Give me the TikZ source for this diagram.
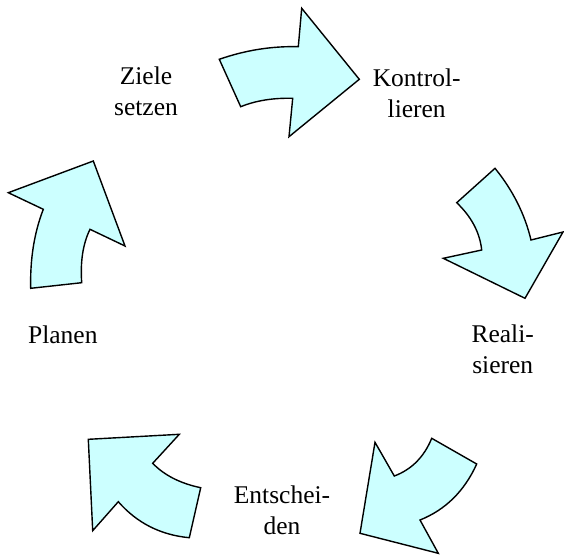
\documentclass[tikz,border=0pt]{standalone}
\usepackage{fontspec}
\setmainfont{Liberation Serif}
\begin{document}
\begin{tikzpicture}[x=1pt,y=-1pt,
  cyclearrow/.style={draw=black,line width=1.4pt,fill=arrowfill,line join=miter},
  steplabel/.style={anchor=base,align=center,inner sep=0pt,
    font=\fontsize{25.5}{31}\selectfont}]
\definecolor{arrowfill}{HTML}{CCFFFF}
\useasboundingbox (0,0) rectangle (564,554);

% top arrow: Ziele setzen -> Kontrollieren
\draw[cyclearrow] (219.3,59.3) .. controls (245.4,50.2) and (271.8,46.0) .. (298.3,46.7)
  -- (301.7,8.3) -- (359.3,79.3) -- (289,136.7) -- (292.7,98.3)
  .. controls (273.1,97.8) and (255.8,100.6) .. (240.7,106.7) -- cycle;

% right arrow: Kontrollieren -> Realisieren
\draw[cyclearrow] (456.7,202.7) -- (495,168.3)
  .. controls (512.8,190.2) and (524.8,214.1) .. (531,240)
  -- (563,232) -- (525,298.3) -- (443.3,258.3) -- (481.7,250)
  .. controls (479.8,232.5) and (471.4,216.7) .. (456.7,202.7) -- cycle;

% lower right arrow: Realisieren -> Entscheiden
\draw[cyclearrow] (431.7,438.3) -- (476.7,464)
  .. controls (464.4,491.1) and (445.5,509.8) .. (420,520)
  -- (438.3,553.3) -- (360,533.3) -- (375,442.3) -- (394.3,476)
  .. controls (411.6,469.5) and (424.1,456.9) .. (431.7,438.3) -- cycle;

% lower left arrow: Entscheiden -> Planen
\draw[cyclearrow] (88.3,439.3) -- (179.3,434.3) -- (152.7,463.3)
  .. controls (164.2,475.2) and (180.2,483.4) .. (200.7,487.7)
  -- (189.3,537.7)
  .. controls (160.6,535) and (136.9,523) .. (118.3,501.7)
  -- (92.7,530.7) -- cycle;

% left arrow: Planen -> Ziele setzen
\draw[cyclearrow] (8.3,192.7) -- (93.3,161) -- (125,246) -- (90,229.3)
  .. controls (83,243.6) and (80.2,261.4) .. (81.7,282.7)
  -- (30.7,288.3)
  .. controls (30,259.1) and (34.2,232.8) .. (43.3,209.3) -- cycle;

% step labels (base anchor sits on the last line)
\node[steplabel] (ziele) at (146,115) {Ziele\\setzen};
\node[steplabel] (kontrolle) at (416.7,117) {Kontrol-\\lieren};
\node[steplabel] (real) at (502.7,373.3) {Reali-\\sieren};
\node[steplabel] (entscheid) at (282,534) {Entschei-\\den};
\node[steplabel] (planen) at (62.8,343) {Planen};
\end{tikzpicture}
\end{document}
